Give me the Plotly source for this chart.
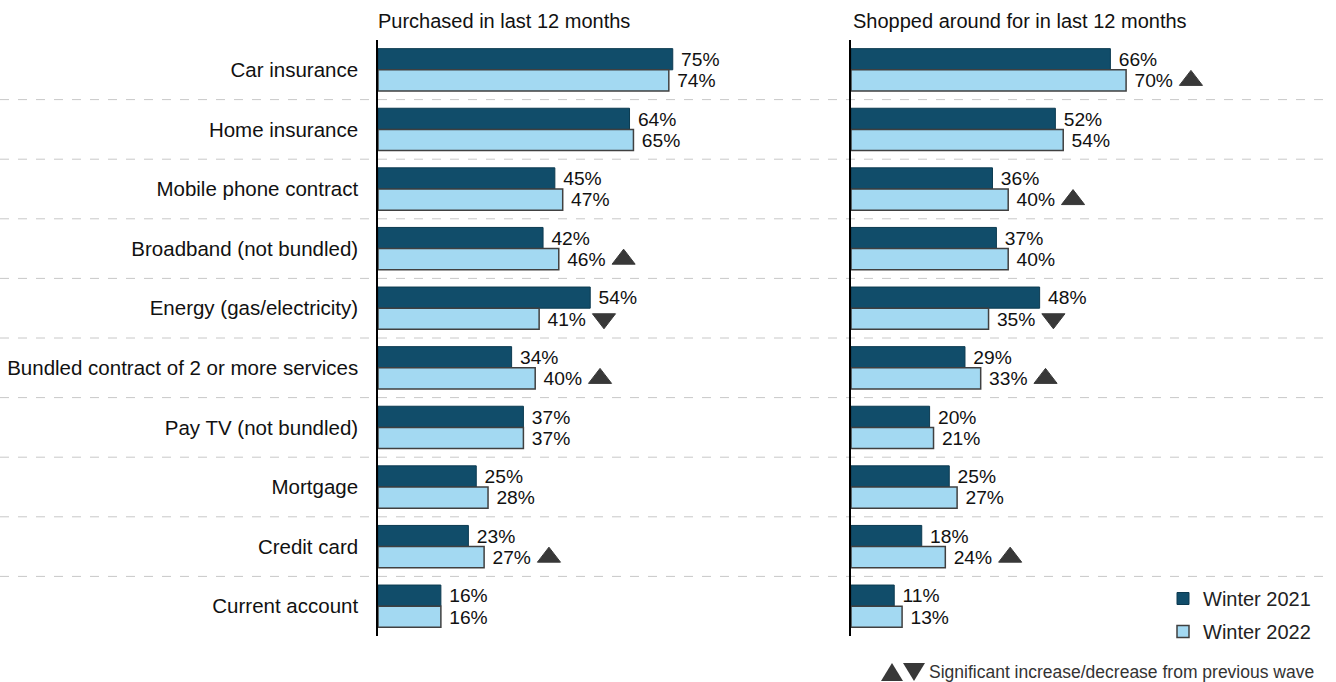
import plotly.graph_objects as go

# Products, top to bottom
categories = [
    "Car insurance",
    "Home insurance",
    "Mobile phone contract",
    "Broadband (not bundled)",
    "Energy (gas/electricity)",
    "Bundled contract of 2 or more services",
    "Pay TV (not bundled)",
    "Mortgage",
    "Credit card",
    "Current account",
]

# Purchased in last 12 months (%)
purchased_2021 = [75, 64, 45, 42, 54, 34, 37, 25, 23, 16]
purchased_2022 = [74, 65, 47, 46, 41, 40, 37, 28, 27, 16]
# Significant change vs previous wave: +1 increase, -1 decrease, 0 none
purchased_sig = [0, 0, 0, 1, -1, 1, 0, 0, 1, 0]

# Shopped around for in last 12 months (%)
shopped_2021 = [66, 52, 36, 37, 48, 29, 20, 25, 18, 11]
shopped_2022 = [70, 54, 40, 40, 35, 33, 21, 27, 24, 13]
shopped_sig = [1, 0, 1, 0, -1, 1, 0, 0, 1, 0]

panel_titles = ["Purchased in last 12 months", "Shopped around for in last 12 months"]
series_names = ["Winter 2021", "Winter 2022"]
footnote = "Significant increase/decrease from previous wave"

DARK = "#114d6a"
LIGHT = "#a3d9f2"
EDGE = "#404040"
TRI = "#383838"
FONT = "Liberation Sans, Arial, sans-serif"
TXT = "#111111"

W, H = 1336, 682
pos = list(range(len(categories)))
BAR_W = 0.355

fig = go.Figure()

panels = [
    (purchased_2021, purchased_2022, purchased_sig, "x", "y"),
    (shopped_2021, shopped_2022, shopped_sig, "x2", "y2"),
]

for k, (v21, v22, sig, xa, ya) in enumerate(panels):
    show = k == 1
    fig.add_trace(go.Bar(
        x=v21, y=pos, orientation="h", width=BAR_W, offset=-BAR_W,
        marker=dict(color=DARK, line=dict(color="#0c3a50", width=1)),
        text=["\u00a0" + f"{v}%" for v in v21], textposition="outside",
        textfont=dict(size=20, color=TXT, family=FONT),
        cliponaxis=False, name=series_names[0], legendgroup="a",
        showlegend=show, xaxis=xa, yaxis=ya, hoverinfo="skip",
    ))
    fig.add_trace(go.Bar(
        x=v22, y=pos, orientation="h", width=BAR_W, offset=0.0,
        marker=dict(color=LIGHT, line=dict(color=EDGE, width=1.5)),
        text=["\u00a0" + f"{v}%" for v in v22], textposition="outside",
        textfont=dict(size=20, color=TXT, family=FONT),
        cliponaxis=False, name=series_names[1], legendgroup="b",
        showlegend=show, xaxis=xa, yaxis=ya, hoverinfo="skip",
    ))
    # significance markers next to the Winter 2022 labels
    for direction, symbol in [(1, "triangle-up"), (-1, "triangle-down")]:
        idx = [i for i, s in enumerate(sig) if s == direction]
        if not idx:
            continue
        fig.add_trace(go.Scatter(
            x=[v22[i] + 16.5 for i in idx], y=[i + BAR_W / 2 for i in idx],
            mode="markers", cliponaxis=False,
            marker=dict(symbol=symbol, size=20, color=TRI, line=dict(color=TRI, width=1)),
            showlegend=False, xaxis=xa, yaxis=ya, hoverinfo="skip",
        ))

def px_x(p):
    return p / W

def px_y(p):
    return 1 - p / H

y_dom = [px_y(636), px_y(40)]
scale = 3.93  # pixels per percentage point
left0, right0 = 378, 851

common_x = dict(range=[0, 100], showgrid=False, zeroline=False, showticklabels=False,
                ticks="", showline=False, fixedrange=True)

fig.update_layout(
    width=W, height=H,
    margin=dict(l=0, r=0, t=0, b=0),
    paper_bgcolor="white", plot_bgcolor="rgba(0,0,0,0)",
    font=dict(family=FONT, size=20, color=TXT),
    barmode="overlay",
    xaxis=dict(domain=[px_x(left0), px_x(left0 + 100 * scale)], anchor="y", **common_x),
    xaxis2=dict(domain=[px_x(right0), px_x(right0 + 100 * scale)], anchor="y2", **common_x),
    yaxis=dict(domain=y_dom, anchor="x", range=[9.5, -0.5], tickmode="array",
               tickvals=pos, ticktext=categories, ticks="", ticklabelstandoff=14,
               showline=True, linecolor="#000000", linewidth=1.5, showgrid=False,
               zeroline=False, tickfont=dict(size=20.5, color=TXT)),
    yaxis2=dict(domain=y_dom, anchor="x2", range=[9.5, -0.5], showticklabels=False,
                showline=True, linecolor="#000000", linewidth=1.5, showgrid=False,
                zeroline=False, ticks=""),
    legend=dict(x=px_x(1163), y=px_y(579), xanchor="left", yanchor="top",
                traceorder="grouped", tracegroupgap=4,
                font=dict(size=20, color="#222222"), bgcolor="rgba(0,0,0,0)"),
    showlegend=True,
)

# dashed separators between product rows
for i in range(len(categories) - 1):
    fig.add_shape(type="line", xref="paper", yref="y", x0=0, x1=0.996,
                  y0=i + 0.5, y1=i + 0.5, layer="below",
                  line=dict(color="#c8c8c8", width=1, dash="dash"))

# panel titles
for title, x0 in zip(panel_titles, [left0 - 2, right0]):
    fig.add_annotation(text=title, xref="paper", yref="paper", x=px_x(x0), y=px_y(21),
                       xanchor="left", yanchor="middle", showarrow=False,
                       font=dict(size=20, color=TXT))

# footnote key: up/down triangles followed by the explanation
fig.add_shape(type="path", xref="paper", yref="paper", fillcolor=TRI, line=dict(width=0),
              path=f"M {px_x(881)} {px_y(681)} L {px_x(903)} {px_y(681)} L {px_x(892)} {px_y(663)} Z")
fig.add_shape(type="path", xref="paper", yref="paper", fillcolor=TRI, line=dict(width=0),
              path=f"M {px_x(903)} {px_y(663)} L {px_x(925)} {px_y(663)} L {px_x(914)} {px_y(681)} Z")
fig.add_annotation(
    text=footnote, xref="paper", yref="paper", x=px_x(1316), y=px_y(672),
    xanchor="right", yanchor="middle", showarrow=False,
    font=dict(size=17.5, color="#333333"),
)

fig.write_html("out.html")
